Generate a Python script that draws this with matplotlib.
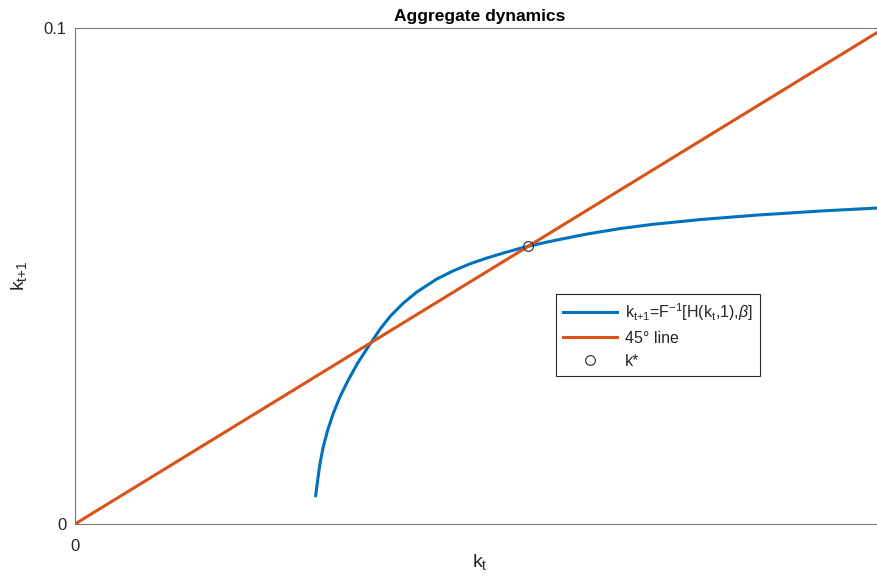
import numpy as np
import matplotlib.pyplot as plt

plt.rcParams['font.family'] = ['Liberation Sans', 'DejaVu Sans']
plt.rcParams['mathtext.fontset'] = 'custom'
plt.rcParams['mathtext.rm'] = 'Liberation Sans'
plt.rcParams['mathtext.it'] = 'Liberation Sans:italic'

# values
k_t = [0.02973, 0.02998, 0.03027, 0.03067, 0.03122, 0.03191, 0.03274, 0.03376,
       0.03490, 0.03623, 0.03768, 0.03904, 0.04056, 0.04221, 0.04468, 0.04673,
       0.04880, 0.05086, 0.05291, 0.05497, 0.05612, 0.05905, 0.06321, 0.06733,
       0.07140, 0.07721, 0.08421, 0.09240, 0.09920, 0.1000]
k_next = [0.00571, 0.00887, 0.01224, 0.01559, 0.01895, 0.02232, 0.02567, 0.02903,
          0.03240, 0.03575, 0.03927, 0.04206, 0.04454, 0.04675, 0.04938, 0.05105,
          0.05246, 0.05361, 0.05462, 0.05557, 0.05605, 0.05710, 0.05845, 0.05956,
          0.06042, 0.06137, 0.06228, 0.06313, 0.06371, 0.06377]
line45 = [0, 0.1]
k_star = 0.0560

blue = '#0072BD'
orange = '#D95319'
txt = '#262626'

fig = plt.figure(figsize=(8.78, 5.8), dpi=100)
ax = fig.add_axes([75 / 878, 56 / 580, 809.5 / 878, 496 / 580])

ax.plot(k_t, k_next, color=blue, lw=2.2,
        label=r'k$_{\mathrm{t{+}1}}$=F$^{-1}$[H(k$_{\mathrm{t}}$,1),$\beta$]')
ax.plot(line45, line45, color=orange, lw=2.2, label='45° line')
ax.plot([k_star], [k_star], 'o', mfc='none', mec='#262626', ms=7, mew=0.8, label='k*')

ax.set_xlim(0, 0.1)
ax.set_ylim(0, 0.1)
ax.set_xticks([0])
ax.set_xticklabels(['0'])
ax.set_yticks([0, 0.1])
ax.set_yticklabels(['0', '0.1'])
ax.tick_params(direction='in', length=0, labelsize=12, colors=txt, pad=6)
ax.tick_params(axis='x', pad=11)
for s in ax.spines.values():
    s.set_color('#7a7a7a')
    s.set_linewidth(0.8)

ax.set_xlabel(r'k$_{\mathrm{t}}$', fontsize=14, color=txt, labelpad=-2)
ax.set_ylabel(r'k$_{\mathrm{t{+}1}}$', fontsize=14, color=txt)
ax.yaxis.set_label_coords(-0.057, 0.5)
ax.set_title('Aggregate dynamics', fontsize=12.5, fontweight='bold', color='black', pad=5)

leg = ax.legend(loc='lower left', bbox_to_anchor=(0.594, 0.298), borderaxespad=0,
                fontsize=11.5, frameon=True, fancybox=False, framealpha=1,
                edgecolor='#262626', handlelength=3.4, handletextpad=0.5,
                borderpad=0.45, labelspacing=0.5)
leg.get_frame().set_linewidth(0.8)
for t in leg.get_texts():
    t.set_color(txt)

fig.savefig('out.png', dpi=100)
